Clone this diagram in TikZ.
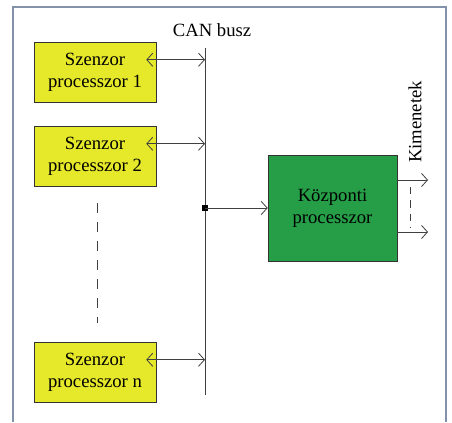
\documentclass[tikz,border=0pt]{standalone}
\usepackage{fontspec}
\setmainfont{Liberation Serif}
\usetikzlibrary{calc,arrows.meta}

\definecolor{sensoryellow}{RGB}{230,232,42}
\definecolor{cpugreen}{RGB}{38,158,72}
\definecolor{framegray}{RGB}{130,146,170}

\tikzset{
	sensor/.style={draw=black!80, fill=sensoryellow, minimum width=91.5pt, minimum height=45pt, inner sep=0pt, align=center, font=\fontsize{14}{16.5}\selectfont},
	cpu/.style={draw=black!80, fill=cpugreen, minimum width=96.75pt, minimum height=79.5pt, inner sep=0pt, align=center, font=\fontsize{14}{16.5}\selectfont},
	wire/.style={draw=black!75, line width=0.6pt},
	tip/.style={-{Straight Barb[length=4.5pt,width=10pt]}},
	bothtip/.style={{Straight Barb[length=4.5pt,width=10pt]}-{Straight Barb[length=4.5pt,width=10pt]}}
}

\begin{document}
\begin{tikzpicture}[x=0.75pt, y=-0.75pt]

	\useasboundingbox (0,0) rectangle (452,422);

	% draw frame
	\draw[framegray, line width=0.8pt] (13,422) -- (13,7) -- (446,7) -- (446,422);

	% draw bus
	\coordinate (bustop) at (205,48);
	\coordinate (busbot) at (205,395);
	\draw[wire] (bustop) -- (busbot);
	\node[font=\fontsize{14}{16.5}\selectfont] (buslabel) at (212,30) {CAN busz};

	% draw sensor processors
	\foreach \s/\y in {1/72, 2/156, n/372}
	{
		\node[sensor] (s_\s) at (95,\y) {Szenzor\\processzor \s};
		\coordinate (p_\s) at ($(s_\s.north east)+(-10,18)$);
		\draw[wire, bothtip] (p_\s) -- (p_\s -| bustop);
	}
	\draw[wire, dash pattern=on 7.5pt off 6.75pt] (97,203) -- (97,323);

	% draw central processor
	\node[cpu] (cpu) at (332.5,208) {Központi\\processzor};
	\node[fill=black, minimum size=4pt, inner sep=0pt] (junc) at (205,208) {};
	\draw[wire, tip] (junc.center) -- (cpu.west);

	% draw outputs
	\foreach \s/\y in {1/180, 2/232}
	{
		\coordinate (out_\s) at (428,\y);
		\draw[wire, tip] (cpu.east |- out_\s) -- (out_\s);
	}
	\draw[wire, dash pattern=on 5.5pt off 4.5pt] (410,187) -- (410,228);
	\node[rotate=90, font=\fontsize{14}{16.5}\selectfont] (outlabel) at (415,122) {Kimenetek};

\end{tikzpicture}
\end{document}
